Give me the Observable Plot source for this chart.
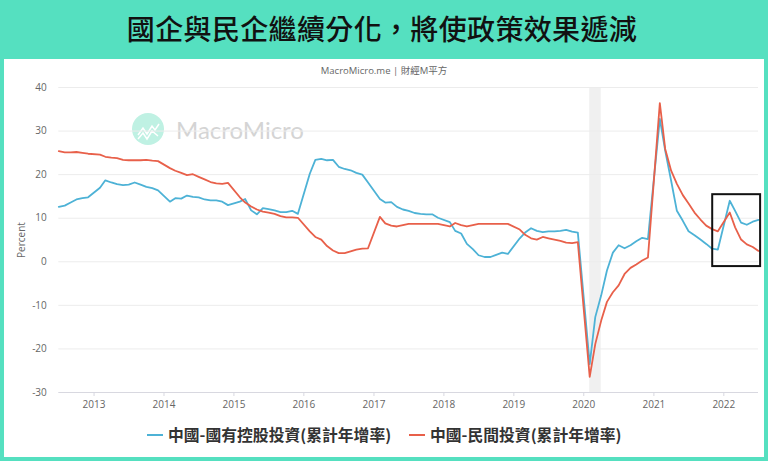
<!DOCTYPE html>
<html>
<head>
<meta charset="utf-8">
<script src="https://cdn.jsdelivr.net/npm/d3@7"></script>
<script src="https://cdn.jsdelivr.net/npm/@observablehq/plot@0.6"></script>
<style>
html,body{margin:0;padding:0;background:#55e0c0;}
#page{position:relative;width:768px;height:461px;overflow:hidden;background:#55e0c0;font-family:"Open Sans","Noto Sans CJK TC",sans-serif;}
#title{position:absolute;left:-2px;top:0;width:768px;text-align:center;font:500 28px/57px "Noto Sans CJK TC",sans-serif;color:#111;letter-spacing:.35px;}
#card{position:absolute;left:3.5px;top:59px;width:760.5px;height:398px;background:#fff;}
#chart{position:absolute;left:0;top:58px;}
#chart svg{display:block;background:transparent;}
#sub{position:absolute;left:0;top:64px;width:768px;text-align:center;font:9.5px/14px "Open Sans","Noto Sans CJK TC",sans-serif;color:#666;}
#logo{position:absolute;left:131.5px;top:113px;width:32px;height:32px;}
#wm{position:absolute;left:176px;top:114px;font:400 24px/32px Lato,sans-serif;color:#d4d4d4;}
#legend{position:absolute;left:0;top:422px;width:768px;font:700 15.8px/26px "Noto Sans CJK TC",sans-serif;color:#333;}
#legend div{position:absolute;white-space:nowrap;}
#legend span.k{position:absolute;left:0;top:12px;width:16px;height:2px;}
#legend span.t{margin-left:21px;}
</style>
</head>
<body>
<div id="page">
  <div id="title"></div>
  <div id="card"></div>
  <svg id="logo" viewBox="0 0 32 32"><circle cx="16" cy="16" r="16" fill="#bff1e3"/><path d="M6 22 L11 15 L15 21 L20 13 L23 17 L27 11 M6 26 L11 20 L15 26 L20 18 L26 23" fill="none" stroke="#fff" stroke-width="1.5"/></svg>
  <div id="wm">MacroMicro</div>
  <div id="sub"></div>
  <div id="chart"></div>
  <div id="legend"></div>
</div>
<script>
const titleText = "國企與民企繼續分化,將使政策效果遞減";
const subText = "MacroMicro.me | 財經M平方";
const stateName = "中國-國有控股投資(累計年增率)";
const privateName = "中國-民間投資(累計年增率)";
const stateColor = "#4db2d6";
const privateColor = "#e8604a";
const startYear = 2012, startMonth = 6;
const yearTicks = [2013,2014,2015,2016,2017,2018,2019,2020,2021,2022];
const percentTicks = [-30,-20,-10,0,10,20,30,40];
const stateValues = [
12.6,12.9,13.6,14.3,14.6,14.8,null,17.0,18.7,18.2,17.8,17.6,
17.7,18.2,17.7,17.2,16.9,16.4,null,13.8,14.6,14.5,15.2,14.9,
14.8,14.3,14.1,14.1,13.8,13.0,null,13.8,14.4,11.8,10.9,12.3,
12.1,11.8,11.4,11.4,11.7,11.0,null,20.2,23.4,23.6,23.3,23.4,
21.8,21.3,21.0,20.4,20.0,18.2,null,14.4,13.6,13.7,12.6,12.0,
11.7,11.2,11.0,10.9,10.9,10.1,null,9.1,7.1,6.5,4.1,2.9,
1.5,1.1,1.1,1.6,2.1,1.8,null,5.4,6.7,7.7,7.1,6.8,
7.0,7.0,7.1,7.3,6.9,6.7,null,-23.5,-12.7,-7.7,-2.0,2.1,
3.8,3.1,3.8,4.7,5.5,5.2,null,32.8,25.5,18.6,11.7,9.4,
7.0,6.1,5.1,4.1,3.0,2.8,null,14.0,11.7,9.0,8.5,9.2,9.6];
const privateValues = [
25.4,25.1,25.1,25.2,25.0,24.8,null,24.6,24.1,23.9,23.8,23.4,
23.3,23.3,23.3,23.4,23.2,23.1,null,21.5,20.9,20.4,19.9,20.1,
19.5,18.9,18.3,18.0,17.9,18.1,null,14.8,13.6,12.7,12.0,11.5,
11.3,11.0,10.5,10.2,10.2,10.1,null,7.0,5.7,5.1,3.6,2.6,
2.0,2.0,2.4,2.8,3.0,3.1,null,10.3,8.8,8.3,8.1,8.4,
8.7,8.7,8.7,8.7,8.7,8.7,null,8.1,8.9,8.4,8.1,8.4,
8.7,8.7,8.7,8.7,8.7,8.7,null,7.4,6.2,5.4,5.1,5.7,
5.4,5.1,4.8,4.4,4.3,4.5,null,-26.4,-18.9,-13.5,-9.2,-7.0,
-5.4,-2.8,-1.4,-0.6,0.3,1.0,null,36.4,25.9,20.9,17.9,15.3,
13.4,11.3,9.7,8.3,7.5,7.0,null,11.3,7.9,5.1,4.0,3.4,2.5];
const shadeStart = new Date(Date.UTC(2020,1,1)), shadeEnd = new Date(Date.UTC(2020,3,1));
const boxStart = new Date(Date.UTC(2021,10,4)), boxEnd = new Date(Date.UTC(2022,6,12));
const boxLow = -1.1, boxHigh = 15.4;

const toRows = vals => vals.map((v,i)=>({date:new Date(Date.UTC(startYear,startMonth+i,1)),v})).filter(d=>d.v!==null);
const stateRows = toRows(stateValues), privateRows = toRows(privateValues);
const yearDates = yearTicks.map(y=>new Date(Date.UTC(y,0,1)));

document.getElementById("title").textContent = titleText.replace(",","，");
document.getElementById("sub").textContent = subText;
document.getElementById("legend").innerHTML =
 `<div style="left:147px"><span class="k" style="background:${stateColor}"></span><span class="t">${stateName}</span></div><div style="left:409px"><span class="k" style="background:${privateColor}"></span><span class="t">${privateName}</span></div>`;

const plot = Plot.plot({
  width:768, height:362,
  marginLeft:58.3, marginRight:10, marginTop:29, marginBottom:28,
  style:{background:"transparent",fontFamily:'"Open Sans",sans-serif',fontSize:"10px",color:"#666"},
  x:{type:"utc",domain:[new Date(Date.UTC(2012,6,1)),new Date(Date.UTC(2022,6,1))]},
  y:{domain:[-30,40]},
  marks:[
    Plot.rect([{x1:shadeStart,x2:shadeEnd}],{x1:"x1",x2:"x2",y1:-30,y2:40,fill:"#f0f0f0"}),
    Plot.ruleY(percentTicks.filter(d=>d>-30),{stroke:"#ececec",strokeWidth:1}),
    Plot.ruleY([-30],{stroke:"#d8d8e0",strokeWidth:1}),
    Plot.axisX({ticks:yearDates,tickFormat:d=>String(d.getUTCFullYear()),tickSize:4,tickPadding:4,stroke:"#d8d8e0",color:"#666",label:null}),
    Plot.axisY({ticks:percentTicks,tickFormat:d=>String(d),tickSize:0,tickPadding:12,color:"#666",label:"Percent",labelAnchor:"center",labelArrow:"none",labelOffset:41}),
    Plot.line(stateRows,{x:"date",y:"v",stroke:stateColor,strokeWidth:1.8,curve:"linear"}),
    Plot.line(privateRows,{x:"date",y:"v",stroke:privateColor,strokeWidth:1.8,curve:"linear"}),
    Plot.rect([{x1:boxStart,x2:boxEnd}],{x1:"x1",x2:"x2",y1:boxLow,y2:boxHigh,fill:"none",stroke:"#111",strokeWidth:2})
  ]
});
document.getElementById("chart").appendChild(plot);
</script>
</body>
</html>
